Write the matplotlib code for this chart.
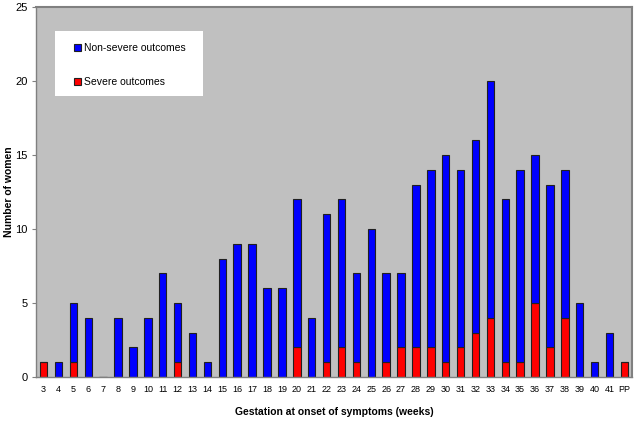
import matplotlib
matplotlib.use("Agg")
import matplotlib.pyplot as plt
from matplotlib.patches import Rectangle
import numpy as np

plt.rcParams['font.family'] = ['Liberation Sans', 'DejaVu Sans']

# gestation weeks (PP = postpartum)
weeks = ['3', '4', '5', '6', '7', '8', '9', '10', '11', '12', '13', '14', '15', '16',
         '17', '18', '19', '20', '21', '22', '23', '24', '25', '26', '27', '28', '29',
         '30', '31', '32', '33', '34', '35', '36', '37', '38', '39', '40', '41', 'PP']
severe = [1, 0, 1, 0, 0, 0, 0, 0, 0, 1, 0, 0, 0, 0,
          0, 0, 0, 2, 0, 1, 2, 1, 0, 1, 2, 2, 2,
          1, 2, 3, 4, 1, 1, 5, 2, 4, 0, 0, 0, 1]
total = [1, 1, 5, 4, 0, 4, 2, 4, 7, 5, 3, 1, 8, 9,
         9, 6, 6, 12, 4, 11, 12, 7, 10, 7, 7, 13, 14,
         15, 14, 16, 20, 12, 14, 15, 13, 14, 5, 1, 3, 1]
non_severe = [t - s for t, s in zip(total, severe)]

fig = plt.figure(figsize=(6.35, 4.43), dpi=100)
ax = fig.add_axes([0.057, 0.149, 0.938, 0.835])
ax.set_facecolor('#c0c0c0')

x = np.arange(len(weeks))
ax.bar(x, severe, width=0.5, color='#ff0000', edgecolor='#202020', linewidth=0.8,
       label='Severe outcomes', zorder=2)
ax.bar(x, non_severe, width=0.5, bottom=severe, color='#0000ff', edgecolor='#202020',
       linewidth=0.8, label='Non-severe outcomes', zorder=2)

ax.set_xlim(-0.5, len(weeks) - 0.5)
ax.set_ylim(0, 25)
ax.set_yticks([0, 5, 10, 15, 20, 25])
ax.set_xticks(x)
ax.set_xticklabels(weeks)
ax.tick_params(axis='x', length=0, labelsize=6.5, pad=6)
ax.tick_params(axis='y', length=3, labelsize=8, color='#808080', pad=3)

for side in ['top', 'right']:
    ax.spines[side].set_color('#808080')
    ax.spines[side].set_linewidth(1.5)
for side in ['left', 'bottom']:
    ax.spines[side].set_color('#808080')
    ax.spines[side].set_linewidth(1)

ax.set_xlabel('Gestation at onset of symptoms (weeks)', fontsize=7.5, fontweight='bold', labelpad=9)
ax.set_ylabel('Number of women', fontsize=7.5, fontweight='bold')
ax.yaxis.set_label_coords(-0.037, 0.5)

# white legend box
ax.add_patch(Rectangle((0.032, 0.759), 0.248, 0.176, transform=ax.transAxes,
                       facecolor='white', edgecolor='none', zorder=3))
handles, labels = ax.get_legend_handles_labels()
leg = ax.legend(handles[::-1], labels[::-1], loc='upper left', bbox_to_anchor=(0.063, 0.903),
                fontsize=7.5, frameon=False, handlelength=0.7, handleheight=0.7,
                handletextpad=0.25, labelspacing=2.3, borderpad=0, borderaxespad=0)
leg.set_zorder(4)

fig.savefig('out.png', dpi=100)
